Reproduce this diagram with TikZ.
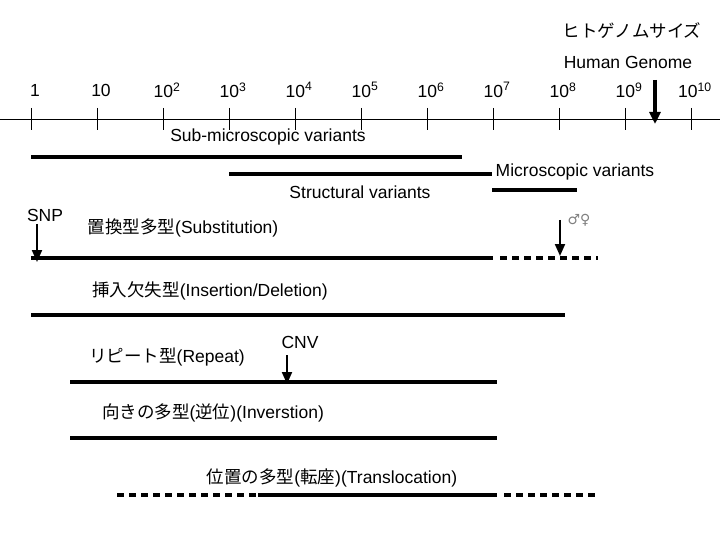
\documentclass[tikz,border=0pt]{standalone}
\usepackage{fontspec}
\setmainfont{Liberation Sans}
\newfontfamily\cjk{Noto Sans CJK JP}
\usetikzlibrary{arrows.meta}
\begin{document}
\begin{tikzpicture}[x=1pt,y=-1pt,
  lbl/.style={inner sep=0pt,font=\fontsize{17.5}{20}\selectfont},
  bar/.style={line width=4.5pt},
  dots/.style={line width=4.5pt,dash pattern=on 7pt off 5pt},
  arr/.style={line width=2pt,-{Triangle[length=12pt,width=10pt]}}]
\useasboundingbox (0,0) rectangle (720,540);
\coordinate (axL) at (0,119); \coordinate (axR) at (720,119);
\draw[line width=0.8pt] (axL) -- (axR);
\foreach \x/\t [count=\i] in {31/1,97/10,163/10\textsuperscript{2},229/10\textsuperscript{3},295/10\textsuperscript{4},361/10\textsuperscript{5},427/10\textsuperscript{6},493/10\textsuperscript{7},559/10\textsuperscript{8},625/10\textsuperscript{9},691/10\textsuperscript{10}}{
  \draw[line width=0.6pt] (\x,108) -- (\x,130);
  \node[lbl] (t\i) at (\x+4,90) {\t};
}
\node[lbl] (hgj) at (632,31) {\cjk ヒトゲノムサイズ};
\node[lbl] (hg) at (628,62) {Human Genome};
\coordinate (hga) at (655,80); \coordinate (hgb) at (655,124);
\draw[line width=3.5pt,-{Triangle[length=12pt,width=11pt]}] (hga) -- (hgb);

\node[lbl] (sub) at (268,137) {Sub-microscopic variants};
\coordinate (s1) at (31,157); \coordinate (s2) at (462,157);
\draw[bar] (s1) -- (s2);
\coordinate (st1) at (229,174); \coordinate (st2) at (492,174);
\draw[bar] (st1) -- (st2);
\node[lbl] (str) at (360,192) {Structural variants};
\node[lbl] (mic) at (575,172) {Microscopic variants};
\coordinate (m1) at (492,190); \coordinate (m2) at (577,190);
\draw[bar] (m1) -- (m2);

\node[lbl] (snp) at (45,215) {SNP};
\node[lbl] (subs) at (183,228) {\cjk 置換型多型\rmfamily(Substitution)};
\coordinate (sa) at (37,224); \coordinate (sb) at (37,262);
\draw[arr] (sa) -- (sb);
\coordinate (b1) at (31,258); \coordinate (b2) at (493,258); \coordinate (b3) at (598,258);
\draw[bar] (b1) -- (b2);
\draw[dots] (b2) ++(7,0) -- (b3);
\coordinate (ca) at (560,220); \coordinate (cb) at (560,256);
\draw[arr] (ca) -- (cb);
\node[lbl,text=gray,font=\fontsize{14}{16}\selectfont] (sex) at (579,220) {\fontspec{DejaVu Sans}♂♀};

\node[lbl] (ins) at (210,291) {\cjk 挿入欠失型\rmfamily(Insertion/Deletion)};
\coordinate (i1) at (31,315); \coordinate (i2) at (565,315);
\draw[bar] (i1) -- (i2);

\node[lbl] (rep) at (167,357) {\cjk リピート型\rmfamily(Repeat)};
\node[lbl] (cnv) at (300,342) {CNV};
\coordinate (na) at (287,355); \coordinate (nb) at (287,384);
\draw[arr] (na) -- (nb);
\coordinate (r1) at (70,382); \coordinate (r2) at (497,382);
\draw[bar] (r1) -- (r2);

\node[lbl] (inv) at (213,413) {\cjk 向きの多型\rmfamily(\cjk 逆位\rmfamily)(Inverstion)};
\coordinate (v1) at (70,438); \coordinate (v2) at (497,438);
\draw[bar] (v1) -- (v2);

\node[lbl] (tra) at (332,478) {\cjk 位置の多型\rmfamily(\cjk 転座\rmfamily)(Translocation)};
\coordinate (x1) at (117,495); \coordinate (x2) at (258,495); \coordinate (x3) at (497,495); \coordinate (x4) at (598,495);
\draw[dots] (x1) -- (x2);
\draw[bar] (x2) -- (x3);
\draw[dots] (x3) ++(7,0) -- (x4);
\end{tikzpicture}
\end{document}
